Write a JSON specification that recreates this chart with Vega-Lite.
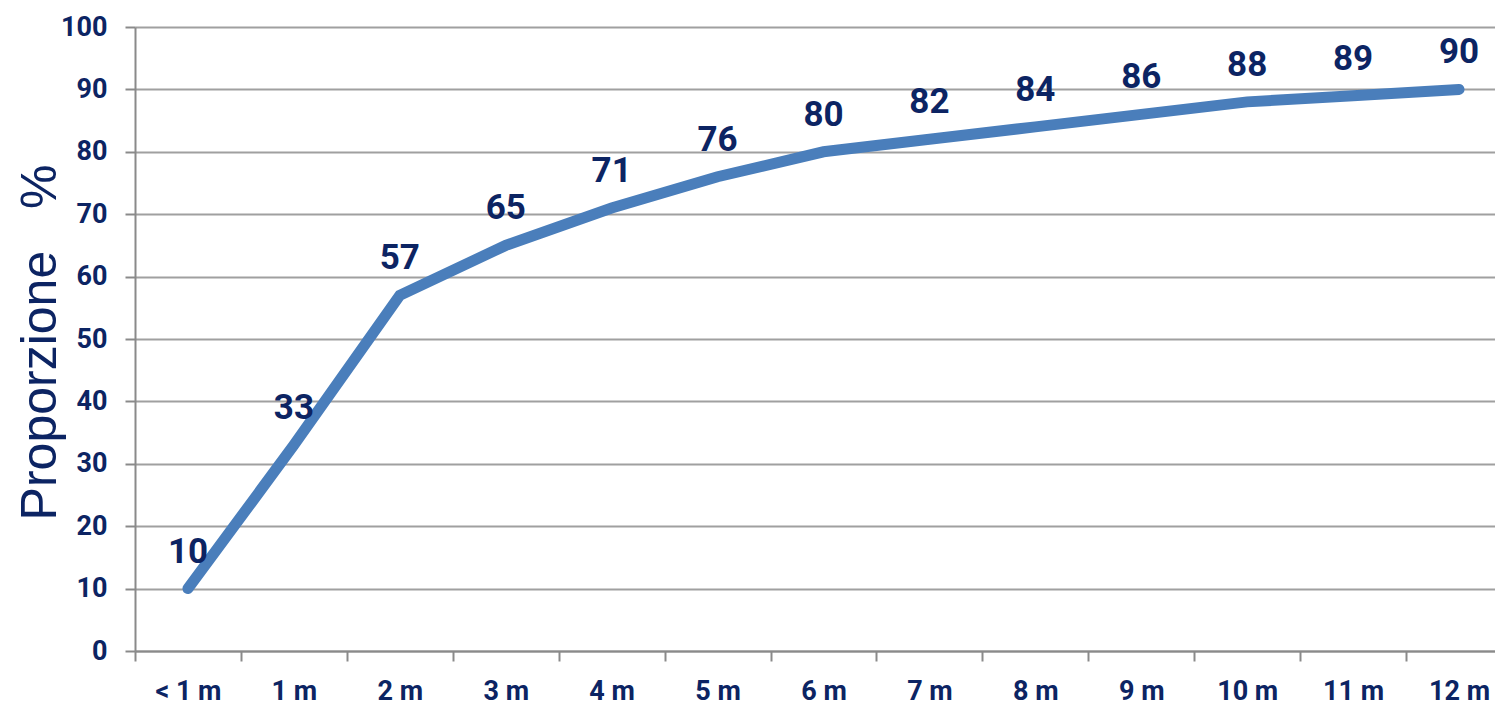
{
  "$schema": "https://vega.github.io/schema/vega-lite/v6.json",
  "width": 1360,
  "height": 624,
  "autosize": {"type": "none"},
  "padding": {"left": 135, "top": 27, "right": 0, "bottom": 55},
  "background": "white",
  "config": {
    "view": {"stroke": null},
    "font": "Roboto"
  },
  "data": {
    "values": [
      {"periodo": "< 1 m", "proporzione": 10},
      {"periodo": "1 m", "proporzione": 33},
      {"periodo": "2 m", "proporzione": 57},
      {"periodo": "3 m", "proporzione": 65},
      {"periodo": "4 m", "proporzione": 71},
      {"periodo": "5 m", "proporzione": 76},
      {"periodo": "6 m", "proporzione": 80},
      {"periodo": "7 m", "proporzione": 82},
      {"periodo": "8 m", "proporzione": 84},
      {"periodo": "9 m", "proporzione": 86},
      {"periodo": "10 m", "proporzione": 88},
      {"periodo": "11 m", "proporzione": 89},
      {"periodo": "12 m", "proporzione": 90}
    ]
  },
  "encoding": {
    "x": {
      "field": "periodo",
      "type": "nominal",
      "sort": null,
      "scale": {"type": "band", "range": [0, 1377], "paddingInner": 0, "paddingOuter": 0},
      "axis": {
        "title": null,
        "labelAngle": 0,
        "tickBand": "extent",
        "grid": false,
        "domainColor": "#8a8a8a",
        "domainWidth": 2,
        "tickColor": "#8a8a8a",
        "tickWidth": 2,
        "tickSize": 10,
        "labelPadding": 17,
        "labelFont": "Roboto",
        "labelFontWeight": "bold",
        "labelFontSize": 27,
        "labelColor": "#0c2463"
      }
    },
    "y": {
      "field": "proporzione",
      "type": "quantitative",
      "scale": {"domain": [0, 100], "nice": false},
      "axis": {
        "values": [0, 10, 20, 30, 40, 50, 60, 70, 80, 90, 100],
        "title": "Proporzione\u00a0\u00a0\u00a0%",
        "titleFont": "Liberation Sans",
        "titleFontWeight": "normal",
        "titleFontSize": 50,
        "titleColor": "#0c2463",
        "titleAngle": -90,
        "titleAlign": "center",
        "titleBaseline": "alphabetic",
        "titleX": -80,
        "titleY": 315,
        "grid": true,
        "gridColor": "#a0a0a0",
        "gridWidth": 2,
        "domainColor": "#8a8a8a",
        "domainWidth": 2,
        "tickColor": "#8a8a8a",
        "tickWidth": 2,
        "tickSize": 10,
        "labelPadding": 18,
        "labelFont": "Roboto",
        "labelFontWeight": "bold",
        "labelFontSize": 27,
        "labelColor": "#0c2463"
      }
    }
  },
  "layer": [
    {
      "mark": {
        "type": "line",
        "color": "#4a7ebb",
        "strokeWidth": 11,
        "strokeCap": "round",
        "strokeJoin": "miter",
        "clip": false
      }
    },
    {
      "mark": {
        "type": "text",
        "font": "Roboto",
        "fontWeight": "bold",
        "fontSize": 35,
        "color": "#0c2463",
        "baseline": "alphabetic",
        "dy": -26
      },
      "encoding": {
        "text": {"field": "proporzione", "type": "quantitative"}
      }
    }
  ]
}
